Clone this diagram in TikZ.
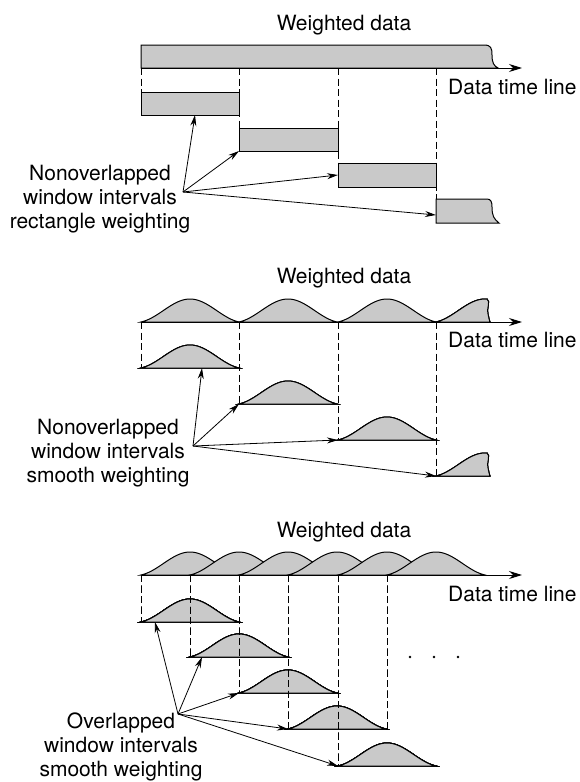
\documentclass[tikz,border=0pt]{standalone}
\usepackage{fontspec}
\setmainfont{TeX Gyre Heros}
\usetikzlibrary{arrows.meta}
\definecolor{wingray}{gray}{0.79}
\tikzset{
  win/.style={fill=wingray,draw=black,line width=1pt},
  guide/.style={dash pattern=on 7pt off 3.5pt,line width=0.9pt},
  pointer/.style={-{Stealth[length=11pt,width=6pt]},line width=0.8pt},
  timeaxis/.style={-{Stealth[length=13pt,width=8pt]},line width=1pt},
  lbl/.style={font=\fontsize{21}{24}\selectfont,align=center,inner sep=0pt}
}
% smooth window: left end, base line
\newcommand{\bell}[2]{%
  \filldraw[win] plot[variable=\t,domain=0:1,samples=40]
    ({#1+98*\t},{#2-23*(0.7*sin(180*\t)^2+0.3*sin(180*\t))}) -- cycle;}
% window cut off at the right
\newcommand{\bellcut}[2]{%
  \filldraw[win] plot[variable=\t,domain=0:0.47,samples=30]
    ({#1+98*\t},{#2-23*(0.7*sin(180*\t)^2+0.3*sin(180*\t))})
    -- ({#1+51},{#2-23}) .. controls ({#1+55},{#2-21}) and ({#1+50},{#2-12}) .. ({#1+52},{#2-8})
    .. controls ({#1+53},{#2-4}) and ({#1+53},{#2-2}) .. ({#1+54},{#2}) -- cycle;}
\begin{document}
\begin{tikzpicture}[x=1pt,y=-1pt]
  \useasboundingbox (0,0) rectangle (580,782);
  % Rectangle weighting
  \node[lbl] (title1) at (344,25) {Weighted data};
  \foreach \x/\y in {141/92,239/128,338/163,436/199}
    \draw[guide] (\x,68) -- (\x,\y);
  \filldraw[win] (141,68) -- (141,45) -- (484,45) .. controls (491,45) and (492,48) .. (492,55)
    .. controls (492,63) and (494,66) .. (498,68) -- cycle;
  \filldraw[win] (141,92) rectangle (239,115);
  \filldraw[win] (239,128) rectangle (338,151);
  \filldraw[win] (338,163) rectangle (436,187);
  \filldraw[win] (436,223) -- (436,199) -- (487,199) .. controls (491,199) and (492,202) .. (492,207)
    .. controls (492,216) and (494,219) .. (499,223) -- cycle;
  \coordinate (ax1) at (141,68);
  \coordinate (ax1e) at (522,68);
  \draw[timeaxis] (ax1) -- (ax1e);
  \node[lbl,anchor=west] (tl1) at (448,87) {Data time line};
  \node[lbl] (lab1) at (100,199) {Nonoverlapped\\window intervals\\rectangle weighting};
  \coordinate (src1) at (183,192);
  \coordinate (a11) at (195,115);
  \coordinate (a12) at (239,151);
  \coordinate (a13) at (338,175);
  \coordinate (a14) at (436,215);
  \foreach \k in {1,...,4}
    \draw[pointer] (src1) -- (a1\k);

  % Smooth weighting, no overlap
  \node[lbl] (title2) at (344,278) {Weighted data};
  \foreach \x/\y in {141/368,239/404,338/440,436/476}
    \draw[guide] (\x,322) -- (\x,\y);
  \foreach \x in {141,239,338}
    \bell{\x}{322}
  \bellcut{436}{322}
  \bell{141}{368}
  \bell{239}{404}
  \bell{338}{440}
  \bellcut{436}{476}
  \coordinate (ax2) at (141,322);
  \coordinate (ax2e) at (522,322);
  \draw[timeaxis] (ax2) -- (ax2e);
  \node[lbl,anchor=west] (tl2) at (448,340) {Data time line};
  \node[lbl] (lab2) at (108,453) {Nonoverlapped\\window intervals\\smooth weighting};
  \coordinate (src2) at (193,446);
  \coordinate (a21) at (202,368);
  \coordinate (a22) at (239,404);
  \coordinate (a23) at (338,440);
  \coordinate (a24) at (436,476);
  \foreach \k in {1,...,4}
    \draw[pointer] (src2) -- (a2\k);

  % Smooth weighting, overlapped
  \node[lbl] (title3) at (344,532) {Weighted data};
  \foreach \x in {141,190,239,288,338,387}
    \bell{\x}{575}
  \foreach \x/\y in {141/622,190/657,239/693,288/729,338/766}
    \bell{\x}{\y}
  \foreach \x/\y in {141/622,190/657,239/693,288/729,338/766,387/729}
    \draw[guide] (\x,575) -- (\x,\y);
  \coordinate (ax3) at (141,575);
  \coordinate (ax3e) at (522,575);
  \draw[timeaxis] (ax3) -- (ax3e);
  \node[lbl,anchor=west] (tl3) at (448,594) {Data time line};
  \foreach \x in {410,434,458}
    \fill (\x,657) circle (1.4pt);
  \node[lbl] (lab3) at (121,747) {Overlapped\\window intervals\\smooth weighting};
  \coordinate (src3) at (178,714);
  \coordinate (a31) at (155,622);
  \coordinate (a32) at (202,657);
  \coordinate (a33) at (239,693);
  \coordinate (a34) at (288,729);
  \coordinate (a35) at (338,766);
  \foreach \k in {1,...,5}
    \draw[pointer] (src3) -- (a3\k);
\end{tikzpicture}
\end{document}
